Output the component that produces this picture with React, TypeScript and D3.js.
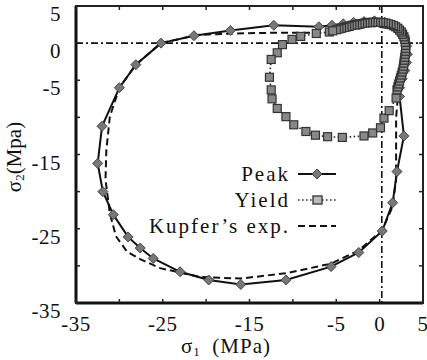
import React from 'react';
import * as d3 from 'd3';

// Peak envelope (sigma1, sigma2) in MPa, closed loop
const peakS1 = [-25.2, -21.4, -17.2, -12.2, -7.0, -5.5, -4.2, -3.0, -1.8, -0.6, 0.6, 1.6, 2.4, 2.9, 3.1, 3.2, 3.1, 2.9, 2.6, 2.3, 2.3, 2.8, 2.0, 1.5, 0.3, -2.4, -5.6, -10.8, -16.0, -19.7, -23.0, -26.1, -27.6, -29.0, -30.7, -31.9, -32.5, -32.0, -30.0, -28.1, -25.2];
const peakS2 = [0.0, 1.0, 1.7, 2.4, 2.2, 2.4, 2.6, 2.8, 2.9, 3.0, 2.8, 2.3, 1.6, 0.7, -0.4, -1.5, -2.6, -3.7, -4.8, -6.0, -7.2, -12.5, -17.3, -21.5, -25.3, -28.2, -30.1, -31.9, -32.5, -31.9, -30.8, -29.0, -27.6, -26.1, -23.1, -20.0, -16.2, -11.2, -6.0, -2.9, 0.0];

// Yield surface, closed loop (the upper right part is densely packed)
const yieldS1 = [-5.8, -7.3, -9.1, -10.1, -11.2, -11.8, -12.5, -12.7, -12.5, -12.4, -11.8, -10.8, -9.9, -8.5, -7.4, -6.0, -4.3, -1.8, -0.8, 0.1, 0.5, 1.1, 1.9, 2.0,
  2.1, 2.2, 2.3, 2.4, 2.5, 2.6, 2.7, 2.75, 2.8, 2.85, 2.9, 2.95, 3.0, 3.0, 3.0, 2.95, 2.9, 2.8, 2.65, 2.5, 2.3, 2.1, 1.85, 1.6, 1.3, 1.0, 0.7, 0.4, 0.1, -0.2, -0.5, -0.8, -1.1, -1.4, -1.7, -2.0, -2.3, -2.6, -2.9, -3.2, -3.5, -3.8, -4.1, -4.4, -4.7, -5.0, -5.4, -5.8];
const yieldS2 = [1.5, 1.3, 0.9, 0.5, -0.2, -1.3, -2.2, -4.6, -6.3, -7.5, -8.8, -9.9, -11.0, -11.9, -12.4, -12.6, -12.7, -12.5, -12.1, -11.4, -10.1, -9.1, -7.4, -6.3,
  -5.9, -5.5, -5.1, -4.7, -4.3, -3.9, -3.5, -3.1, -2.7, -2.3, -1.9, -1.5, -1.1, -0.7, -0.3, 0.1, 0.5, 0.85, 1.2, 1.5, 1.75, 2.0, 2.2, 2.35, 2.5, 2.6, 2.7, 2.75, 2.8, 2.8, 2.8, 2.8, 2.8, 2.75, 2.7, 2.65, 2.6, 2.5, 2.45, 2.4, 2.3, 2.2, 2.1, 2.0, 1.9, 1.8, 1.65, 1.5];

// Kupfer's experiment
const kupferS1 = [-25.2, -21.0, -17.0, -12.0, -8.0, -4.0, -1.0, 1.5, 2.8, 2.8, 2.2, 1.9, 1.9, 1.9, 1.5, 0.3, -2.4, -5.6, -10.8, -16.0, -20.7, -23.0, -25.3, -27.6, -29.1, -30.4, -31.1, -31.6, -31.5, -31.1, -30.0, -28.1, -25.2];
const kupferS2 = [0.0, 1.1, 1.3, 1.4, 1.4, 1.6, 2.3, 2.0, 0.0, -3.0, -6.0, -10.0, -14.0, -18.4, -22.0, -25.2, -27.9, -29.7, -31.0, -31.7, -31.5, -30.9, -30.3, -29.1, -28.1, -26.0, -22.9, -18.4, -14.4, -9.9, -6.0, -2.9, 0.0];

const tickValues = [-35, -30, -25, -20, -15, -10, -5, 0, 5];
const xTickLabels = [-35, -25, -15, -5, 0, 5];
const yTickLabels = [5, 0, -5, -15, -25, -35];
const legendLabels = ['Peak', 'Yield', 'Kupfer\u2019s exp.'];

const W = 427;
const H = 360;
const left = 76;
const right = 423;
const top = 6;
const bottom = 303;
const font = "'Liberation Serif', 'Times New Roman', Times, 'DejaVu Serif', serif";

export default function App() {
  const x = d3.scaleLinear().domain([-35, 5]).range([left, right]);
  const y = d3.scaleLinear().domain([5, -35]).range([top, bottom]);

  const line = d3.line<[number, number]>().x(d => x(d[0])).y(d => y(d[1]));
  const peak = peakS1.map((v, i) => [v, peakS2[i]] as [number, number]);
  const yld = yieldS1.map((v, i) => [v, yieldS2[i]] as [number, number]);
  const kup = kupferS1.map((v, i) => [v, kupferS2[i]] as [number, number]);

  const diamond = (cx: number, cy: number) =>
    `M${cx},${cy - 5}L${cx + 5},${cy}L${cx},${cy + 5}L${cx - 5},${cy}Z`;

  const legendY = [174, 200, 226];
  const dashDot = '7,3,2,3';

  return (
    <svg width={W} height={H} style={{ position: 'absolute', left: 0, top: 0, background: '#fff' }}>
      {/* reference lines at sigma = 0 */}
      <line x1={left} x2={right} y1={y(0)} y2={y(0)} stroke="#111" strokeWidth={1.6} strokeDasharray={dashDot} />
      <line x1={x(0.25)} x2={x(0.25)} y1={top} y2={bottom} stroke="#111" strokeWidth={1.6} strokeDasharray={dashDot} />

      <path d={line(kup) || ''} fill="none" stroke="#111" strokeWidth={2} strokeDasharray="7,4" />
      <path d={line(peak) || ''} fill="none" stroke="#111" strokeWidth={2} />
      <path d={line(yld) || ''} fill="none" stroke="#222" strokeWidth={1.6} strokeDasharray="1.5,2.5" />

      {peak.slice(0, -1).map((d, i) => (
        <path key={'p' + i} d={diamond(x(d[0]), y(d[1]))} fill="#777" stroke="#444" strokeWidth={1} />
      ))}
      {yld.slice(0, -1).map((d, i) => (
        <rect key={'y' + i} x={x(d[0]) - 4} y={y(d[1]) - 4} width={8} height={8} fill="#888" stroke="#333" strokeWidth={1.2} />
      ))}

      {/* frame */}
      <rect x={left} y={top} width={right - left} height={bottom - top} fill="none" stroke="#222" strokeWidth={2} />
      <line x1={left} x2={left} y1={top} y2={bottom} stroke="#111" strokeWidth={3} />
      <line x1={left} x2={right} y1={bottom} y2={bottom} stroke="#111" strokeWidth={3} />
      {tickValues.map(t => (
        <g key={'t' + t} stroke="#222" strokeWidth={1.5}>
          <line x1={x(t)} x2={x(t)} y1={bottom} y2={bottom - 4} />
          <line x1={x(t)} x2={x(t)} y1={top} y2={top + 4} />
          <line x1={left} x2={left + 4} y1={y(t)} y2={y(t)} />
          <line x1={right} x2={right - 4} y1={y(t)} y2={y(t)} />
        </g>
      ))}

      <g style={{ fontFamily: font }} fontSize={21} fill="#111">
        {xTickLabels.map(t => (
          <text key={'xl' + t} x={x(t)} y={331} textAnchor="middle" letterSpacing={0.5}>
            {t}
          </text>
        ))}
        {yTickLabels.map(t => (
          <text key={'yl' + t} x={61} y={y(t) + 15} textAnchor="end" letterSpacing={0.5}>
            {t}
          </text>
        ))}
        <text x={226} y={353} textAnchor="middle" letterSpacing={1}>
          σ<tspan fontSize={13} dy={3}>1</tspan>
          <tspan dy={-3}>{'\u2002(MPa)'}</tspan>
        </text>
        <text transform="translate(21,157) rotate(-90)" textAnchor="middle">
          σ<tspan fontSize={13} dy={3}>2</tspan>
          <tspan dy={-3}>(Mpa)</tspan>
        </text>

        {legendLabels.map((name, i) => (
          <text key={name} x={290} y={legendY[i] + 7} textAnchor="end" letterSpacing={2}>
            {name}
          </text>
        ))}
      </g>

      {/* legend samples */}
      <line x1={298} x2={336} y1={legendY[0]} y2={legendY[0]} stroke="#111" strokeWidth={2} />
      <path d={diamond(317, legendY[0])} fill="#777" stroke="#444" strokeWidth={1} />
      <line x1={298} x2={336} y1={legendY[1]} y2={legendY[1]} stroke="#222" strokeWidth={1.6} strokeDasharray="1.5,2.5" />
      <rect x={313} y={legendY[1] - 4} width={9} height={8} fill="#bbb" stroke="#444" strokeWidth={1.5} />
      <line x1={298} x2={336} y1={legendY[2]} y2={legendY[2]} stroke="#111" strokeWidth={2} strokeDasharray="7,4" />
    </svg>
  );
}
